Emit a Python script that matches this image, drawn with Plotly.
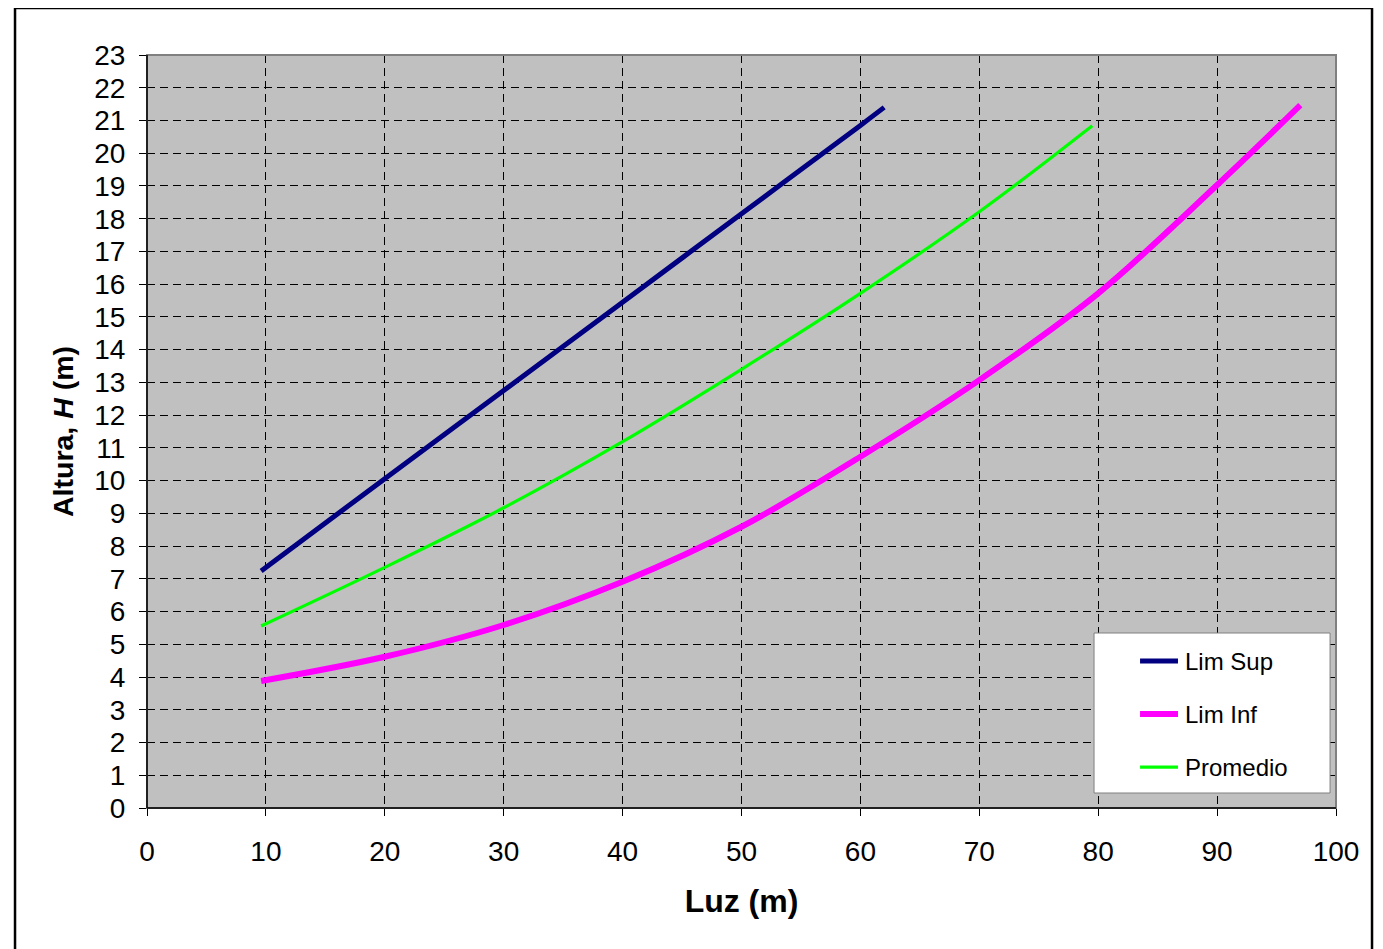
import plotly.graph_objects as go

# Data
x_sup = [9.6, 20, 30, 40, 50, 60, 62.0]
y_sup = [7.24, 10.06, 12.75, 15.45, 18.15, 20.85, 21.40]

x_inf = [9.6, 20, 30, 40, 50, 60, 70, 80, 90, 97.0]
y_inf = [3.88, 4.62, 5.59, 6.91, 8.59, 10.73, 13.07, 15.72, 19.03, 21.47]

x_prom = [9.6, 20, 30, 40, 50, 60, 70, 79.5]
y_prom = [5.56, 7.35, 9.17, 11.19, 13.40, 15.72, 18.21, 20.84]

x_ticks = [0, 10, 20, 30, 40, 50, 60, 70, 80, 90, 100]
y_ticks = list(range(0, 24))

series_names = ["Lim Sup", "Lim Inf", "Promedio"]
series_colors = ["#000080", "#FF00FF", "#00FF00"]
series_widths = [5, 6, 3.2]

FONT = "Liberation Sans, Arial, sans-serif"

fig = go.Figure()
for xs, ys, name, col, w in zip([x_sup, x_inf, x_prom], [y_sup, y_inf, y_prom],
                                series_names, series_colors, series_widths):
    fig.add_trace(go.Scatter(x=xs, y=ys, mode="lines", name=name,
                             line=dict(color=col, width=w, shape="spline"),
                             showlegend=False))

shapes = [
    # plot area border (gray)
    dict(type="rect", xref="paper", yref="paper", x0=0, y0=0, x1=1, y1=1,
         line=dict(color="#808080", width=2), layer="above"),
    # left axis line (black)
    dict(type="line", xref="paper", yref="paper", x0=0, y0=0, x1=0, y1=1,
         line=dict(color="black", width=1.5), layer="above"),
    # bottom axis line (black)
    dict(type="line", xref="paper", yref="paper", x0=0, y0=0, x1=1, y1=0,
         line=dict(color="black", width=1.5), layer="above"),
    # outer chart frame
    dict(type="rect", xref="paper", yref="paper", x0=-0.111, y0=-0.3, x1=1.0303, y1=1.0624,
         line=dict(color="black", width=2.5), layer="above"),
    # legend box
    dict(type="rect", xref="paper", yref="paper", x0=0.7965, y0=0.0199, x1=0.9950, y1=0.2324,
         fillcolor="white", line=dict(color="#808080", width=1), layer="above"),
]
annotations = []
legend_rows = [0.1952, 0.1248, 0.0544]
for name, col, w, yy in zip(series_names, series_colors, series_widths, legend_rows):
    shapes.append(dict(type="line", xref="paper", yref="paper", x0=0.8352, x1=0.8671, y0=yy, y1=yy,
                       line=dict(color=col, width=w), layer="above"))
    annotations.append(dict(text=name, xref="paper", yref="paper", x=0.8713, y=yy,
                            xanchor="left", yanchor="middle", showarrow=False,
                            font=dict(family=FONT, size=24, color="black")))

fig.update_layout(
    width=1375, height=941,
    margin=dict(l=139, r=47, t=47, b=141, pad=0),
    paper_bgcolor="white",
    plot_bgcolor="#C0C0C0",
    font=dict(family=FONT, color="black", size=28),
    showlegend=False,
    xaxis=dict(
        range=[0, 100], tickvals=x_ticks, ticktext=[str(v) for v in x_ticks],
        showgrid=True, gridcolor="black", gridwidth=1, griddash="8px,5px",
        zeroline=False, showline=False,
        ticks="outside", ticklen=7, tickcolor="black", tickwidth=1,
        ticklabelstandoff=11,
        tickfont=dict(family=FONT, size=28, color="black"),
        title=dict(text="<b>Luz (m)</b>", font=dict(family=FONT, size=32, color="black"), standoff=24),
    ),
    yaxis=dict(
        range=[0, 23], tickvals=y_ticks, ticktext=[str(v) for v in y_ticks],
        showgrid=True, gridcolor="black", gridwidth=1, griddash="8px,5px",
        zeroline=False, showline=False,
        ticks="outside", ticklen=7, tickcolor="black", tickwidth=1,
        ticklabelstandoff=8,
        tickfont=dict(family=FONT, size=28, color="black"),
        title=dict(text="<b>Altura, <i>H</i> (m)</b>", font=dict(family=FONT, size=28.5, color="black"), standoff=12),
    ),
    shapes=shapes,
    annotations=annotations,
)

fig.write_html("out.html")
